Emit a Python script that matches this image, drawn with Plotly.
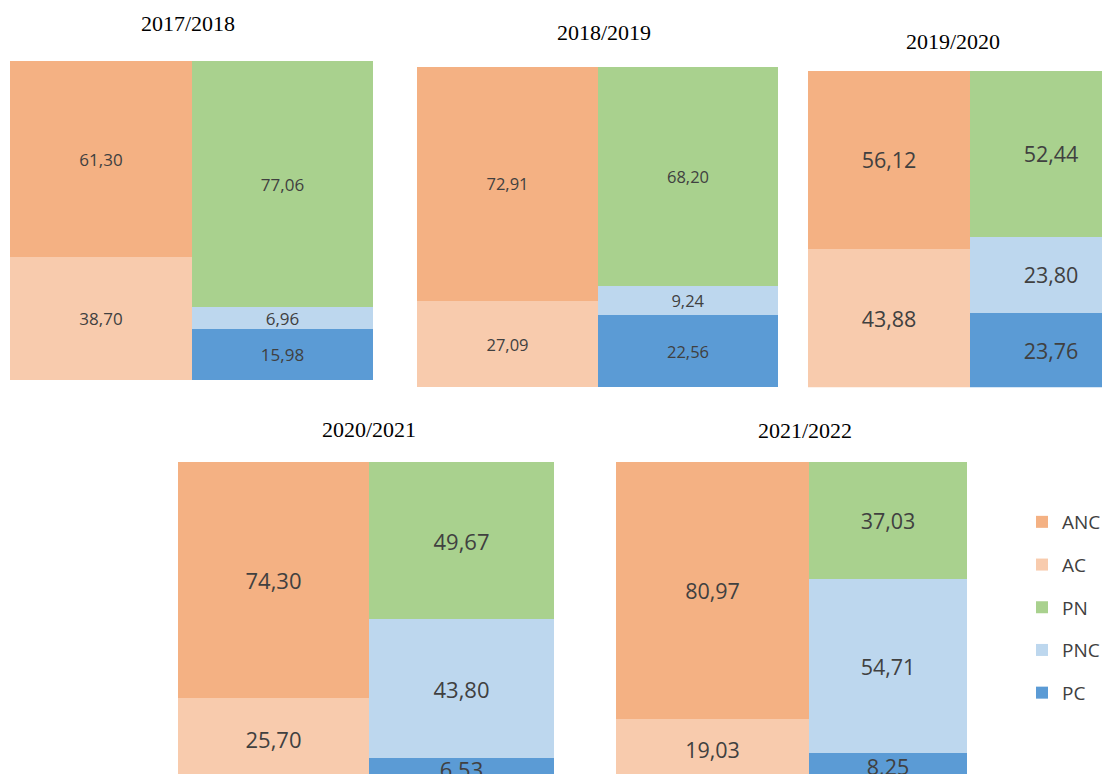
import plotly.graph_objects as go

# ---- data (percentages) ----
periods = ["2017/2018", "2018/2019", "2019/2020", "2020/2021", "2021/2022"]
sides = ["Ativo", "Passivo"]
ANC = [61.30, 72.91, 56.12, 74.30, 80.97]
AC = [38.70, 27.09, 43.88, 25.70, 19.03]
PN = [77.06, 68.20, 52.44, 49.67, 37.03]
PNC = [6.96, 9.24, 23.80, 43.80, 54.71]
PC = [15.98, 22.56, 23.76, 6.53, 8.25]

# the page body has an 8px margin, so the figure is sized to fill the window
OFF = 8
W, H = 1110 - OFF, 774 - OFF

colors = {"ANC": "#F4B183", "AC": "#F8CBAD", "PN": "#A9D18E",
          "PNC": "#BDD7EE", "PC": "#5B9BD5"}
legend_rank = {"ANC": 1, "AC": 2, "PN": 3, "PNC": 4, "PC": 5}

# panel boxes in screen pixels: (left, right, top, bottom)
boxes = [(10, 373, 61, 380), (417, 778, 66.5, 387), (808, 1110, 70.5, 387.3),
         (178, 554, 462, 774), (616, 967, 462, 774)]
xranges = [[-0.5, 1.5], [-0.5, 1.5], [-0.5, 1.364], [-0.508, 1.492], [-0.5485, 1.4515]]
bar_widths = [(1, 1), (1, 1), (1, 1), (1.016, 0.984), (1.097, 0.903)]
yranges = [[0, 100], [0, 100], [0, 100], [1.6, 100], [1.6, 100]]
label_sizes = [17, 16.5, 21.5, 22, 21.5]
title_pos = [(187.5, 24), (604, 32.5), (953, 41), (369, 429), (805, 430.5)]


def px(sx):
    return (sx - OFF) / W


def py(sy):
    return 1 - (sy - OFF) / H


fig = go.Figure()

for i, p in enumerate(periods):
    ax = "" if i == 0 else str(i + 1)
    stacks = [("AC", AC, 0), ("ANC", ANC, 0), ("PC", PC, 1), ("PNC", PNC, 1), ("PN", PN, 1)]
    for name, vals, side in stacks:
        fig.add_trace(go.Bar(
            x=[sides[side]], y=[vals[i]], name=name,
            width=[bar_widths[i][side]],
            marker=dict(color=colors[name], line=dict(width=0)),
            texttemplate="%{y:.2f}", textposition="inside",
            insidetextanchor="middle", textangle=0, constraintext="none",
            textfont=dict(family="Open Sans", size=label_sizes[i], color="#404040"),
            xaxis="x" + ax, yaxis="y" + ax,
            showlegend=(i == 0), legendgroup=name, legendrank=legend_rank[name],
            hoverinfo="skip",
        ))
    l, r, t, b = boxes[i]
    fig.layout["xaxis" + ax] = dict(
        domain=[max(0, px(l)), min(1, px(r))], range=xranges[i], type="category",
        visible=False, anchor="y" + ax, fixedrange=True,
        categoryorder="array", categoryarray=sides)
    fig.layout["yaxis" + ax] = dict(
        domain=[max(0, py(b)), min(1, py(t))], range=yranges[i],
        visible=False, anchor="x" + ax, fixedrange=True)
    tx, ty = title_pos[i]
    fig.add_annotation(text=p, x=px(tx), y=py(ty), xref="paper", yref="paper",
                       xanchor="center", yanchor="middle", showarrow=False,
                       font=dict(family="Liberation Serif", size=22, color="#000000"))

fig.update_layout(
    width=W, height=H, barmode="stack", bargap=0,
    margin=dict(l=0, r=0, t=0, b=0),
    paper_bgcolor="white", plot_bgcolor="white",
    separators=", ",
    legend=dict(x=px(1022), y=py(503), xanchor="left", yanchor="top",
                traceorder="grouped", tracegroupgap=15,
                font=dict(family="Open Sans", size=19, color="#404040"),
                bgcolor="rgba(0,0,0,0)"),
)

fig.write_html("out.html")
